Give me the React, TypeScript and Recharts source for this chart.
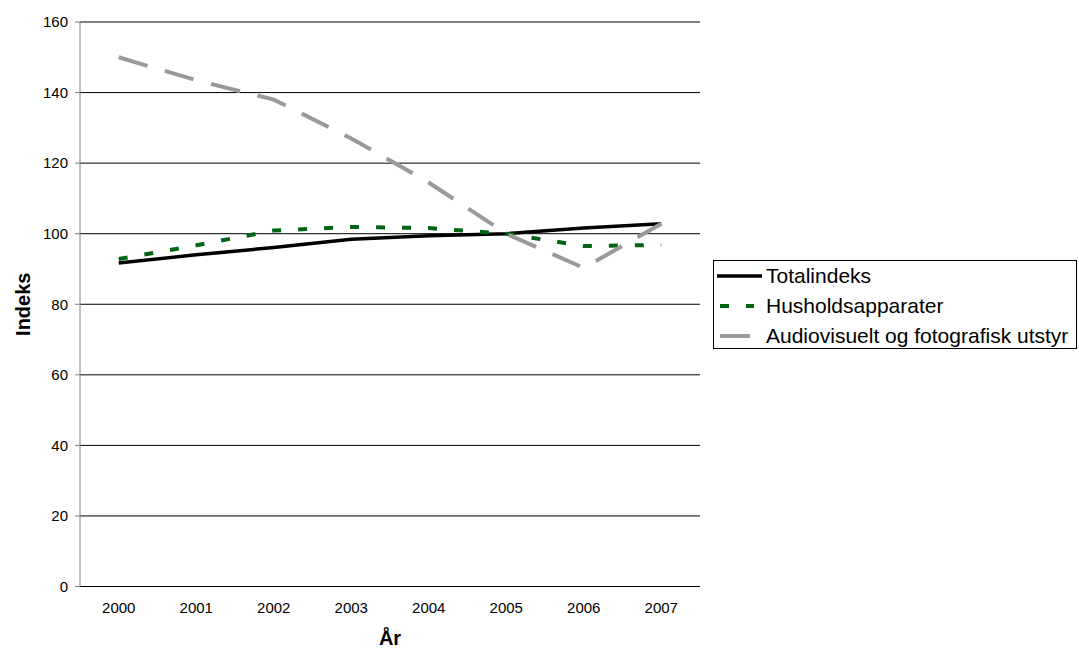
import React from 'react';
import { LineChart, Line, XAxis, YAxis, CartesianGrid, Legend } from 'recharts';

// Price indices (2005 = 100)
const years = ['2000', '2001', '2002', '2003', '2004', '2005', '2006', '2007'];
const totalindeks = [91.7, 94.0, 96.1, 98.4, 99.4, 100, 101.6, 102.8];
const husholdsapparater = [92.8, 96.7, 100.9, 101.9, 101.6, 100, 96.5, 96.8];
const audiovisuelt = [150, 143.5, 138, 127, 114.5, 100, 90.3, 102.8];
const yTicks = [0, 20, 40, 60, 80, 100, 120, 140, 160];

const seriesNames = {
  total: 'Totalindeks',
  hush: 'Husholdsapparater',
  audio: 'Audiovisuelt og fotografisk utstyr',
};

const data = years.map((year, i) => ({
  year,
  total: totalindeks[i],
  hush: husholdsapparater[i],
  audio: audiovisuelt[i],
}));

// Category boundaries for the tick marks between years
const boundaries = Array.from({ length: years.length + 1 }, (_, i) => i);

const FONT = '"Liberation Sans", Arial, Helvetica, sans-serif';

type SeriesStyle = { color: string; width: number; dash?: string };
const styles: Record<string, SeriesStyle> = {
  total: { color: '#000000', width: 3.5 },
  hush: { color: '#006414', width: 4, dash: '9 17' },
  audio: { color: '#999999', width: 4, dash: '30 18' },
};
const order = ['total', 'hush', 'audio'];

const renderLegend = (props: any) => {
  const payload: any[] = props.payload || [];
  const items = order
    .map((k) => payload.find((p) => p.dataKey === k))
    .filter(Boolean);
  return (
    <div
      style={{
        boxSizing: 'border-box',
        width: 364,
        height: 89,
        border: '1px solid #000',
        background: '#fff',
        fontFamily: FONT,
        fontSize: 21,
        color: '#000',
      }}
    >
      {items.map((entry: any) => {
        const s = styles[entry.dataKey];
        return (
          <div
            key={entry.dataKey}
            style={{ display: 'flex', alignItems: 'center', height: 30, lineHeight: '30px', whiteSpace: 'nowrap' }}
          >
            <svg width={52} height={30} style={{ flex: 'none', display: 'block' }}>
              <line
                x1={s.dash ? 6 : 3}
                x2={s.dash ? 40 : 48}
                y1={15}
                y2={15}
                stroke={s.color}
                strokeWidth={s.width}
                strokeDasharray={s.dash}
              />
            </svg>
            <span>{entry.value}</span>
          </div>
        );
      })}
    </div>
  );
};

export default function App() {
  return (
    <div style={{ position: 'absolute', left: 0, top: 0, width: 1079, height: 650, background: '#fff' }}>
      <LineChart
        width={1079}
        height={650}
        data={data}
        margin={{ top: 22, right: 379, bottom: 33.5, left: 0 }}
      >
        <CartesianGrid horizontal vertical={false} stroke="#000" strokeWidth={1} />
        <XAxis
          xAxisId="edge"
          type="number"
          domain={[0, years.length]}
          ticks={boundaries}
          tick={false}
          tickSize={5}
          height={0}
          axisLine={false}
          tickLine={{ stroke: '#808080' }}
        />
        <XAxis
          dataKey="year"
          height={30}
          padding={{ left: 38.75, right: 38.75 }}
          axisLine={false}
          tickLine={false}
          tickSize={5}
          tickMargin={11}
          interval={0}
          tick={{ fill: '#000', fontSize: 15, fontFamily: FONT }}
          label={{
            value: 'År',
            position: 'bottom',
            offset: 14,
            style: { fill: '#000', fontSize: 20, fontWeight: 'bold', fontFamily: FONT },
          }}
        />
        <YAxis
          width={80}
          domain={[0, 160]}
          ticks={yTicks}
          interval={0}
          tickSize={5}
          tickMargin={7}
          axisLine={{ stroke: '#808080' }}
          tickLine={{ stroke: '#808080' }}
          tick={{ fill: '#000', fontSize: 15, fontFamily: FONT }}
          label={{
            value: 'Indeks',
            angle: -90,
            position: 'insideLeft',
            offset: 23,
            style: { textAnchor: 'middle', fill: '#000', fontSize: 20, fontWeight: 'bold', fontFamily: FONT },
          }}
        />
        <Legend
          layout="horizontal"
          align="center"
          verticalAlign="middle"
          content={renderLegend}
          wrapperStyle={{ left: 713, top: 260, width: 364, height: 89 }}
        />
        {order.map((k) => (
          <Line
            key={k}
            type="linear"
            dataKey={k}
            name={seriesNames[k as keyof typeof seriesNames]}
            stroke={styles[k].color}
            strokeWidth={styles[k].width}
            strokeDasharray={styles[k].dash}
            dot={false}
            activeDot={false}
            isAnimationActive={false}
          />
        ))}
      </LineChart>
    </div>
  );
}
